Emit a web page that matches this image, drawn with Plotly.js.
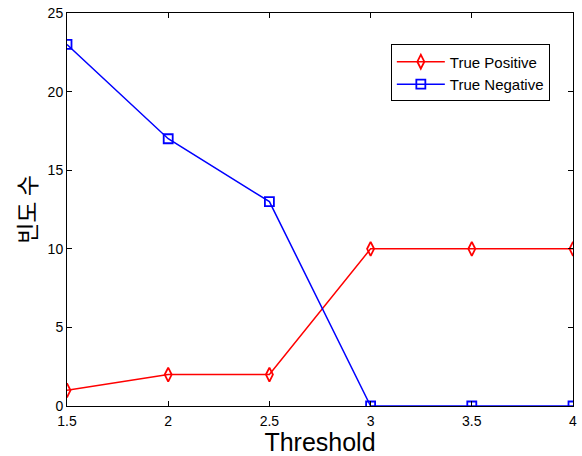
<!DOCTYPE html>
<html><head><meta charset="utf-8">
<script src="https://cdn.plot.ly/plotly-3.0.1.min.js"></script>
<style>body{margin:0;background:#fff}#c{width:582px;height:456px}</style>
</head><body><div id="c"></div>
<script>
const thresholds = [1.5, 2, 2.5, 3, 3.5, 4];
const truePositive = [1, 2, 2, 10, 10, 10];
const trueNegative = [23, 17, 13, 0, 0, 0];
const seriesNames = ['True Positive', 'True Negative'];
const xTicks = [1.5, 2, 2.5, 3, 3.5, 4];
const xTickText = ['1.5', '2', '2.5', '3', '3.5', '4'];
const yTicks = [0, 5, 10, 15, 20, 25];

const traces = [
  {x: thresholds, y: truePositive, name: seriesNames[0], mode: 'lines+markers',
   line: {color: '#ff0000', width: 1.5},
   marker: {symbol: 'diamond-tall-open', size: 10, color: '#ff0000', line: {width: 1.8}}},
  {x: thresholds, y: trueNegative, name: seriesNames[1], mode: 'lines+markers',
   line: {color: '#0000ff', width: 1.5},
   marker: {symbol: 'square-open', size: 9, color: '#0000ff', line: {width: 1.8}}}
];
const axisCommon = {showgrid: false, zeroline: false, showline: true, mirror: 'ticks',
  linecolor: '#000', linewidth: 1, ticks: 'inside', ticklen: 5, tickcolor: '#000',
  tickfont: {family: 'Liberation Sans, Arial', size: 14, color: '#000'}};
const layout = {
  width: 582, height: 456,
  margin: {l: 67, r: 9, t: 13, b: 50},
  paper_bgcolor: '#fff', plot_bgcolor: '#fff',
  showlegend: true,
  legend: {x: 0.64, y: 0.92, xanchor: 'left', yanchor: 'top', bgcolor: '#fff',
    bordercolor: '#000', borderwidth: 1, itemwidth: 48,
    font: {family: 'Liberation Sans, Arial', size: 15, color: '#000'}, tracegroupgap: 0},
  xaxis: Object.assign({}, axisCommon, {range: [1.5, 4], tickvals: xTicks, ticktext: xTickText,
    ticklabelstandoff: 2,
    title: {text: 'Threshold', font: {family: 'Liberation Sans, Arial', size: 25, color: '#000'}, standoff: 2}}),
  yaxis: Object.assign({}, axisCommon, {range: [0, 25], tickvals: yTicks,
    title: {text: '빈도 수', font: {family: 'Noto Sans CJK KR', size: 23, color: '#000'}, standoff: 4}})
};
Plotly.newPlot('c', traces, layout, {displayModeBar: false, staticPlot: true});
</script></body></html>
